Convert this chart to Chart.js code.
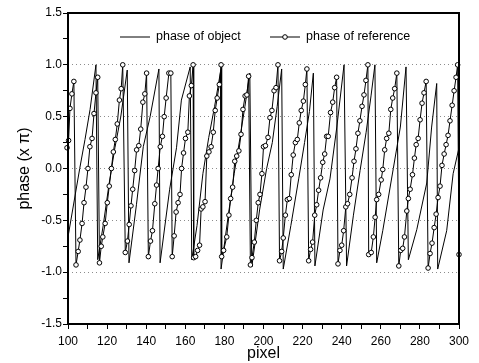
<!DOCTYPE html>
<html>
<head>
<meta charset="utf-8">
<script src="https://cdn.jsdelivr.net/npm/chart.js@4"></script>
<style>
  html, body { margin: 0; padding: 0; background: #fff; }
  canvas { display: block; }
</style>
</head>
<body>
<canvas id="chart" width="479" height="363"></canvas>
<script>
// reference phase: one circle per sample
const refX = [
  99.5, 100.3, 101, 102, 103,
  104.1, 105.2, 106.1, 107.2, 108.2, 109.2, 110.2, 111.2, 112.3, 113.3, 114.3, 115.2,
  116.1, 117, 117.8, 119, 120.1, 121.1, 122.2, 123.2, 124.2, 125.2, 126.3, 127.2, 128,
  129.3, 130.4, 131.3, 132.2, 133.1, 134.1, 135.1, 136.2, 137.2, 138.3, 139.3, 140.2,
  141.1, 142.2, 143.2, 144.4, 145.3, 146.1, 147.2, 148.3, 149.2, 150.2, 151.6, 152.6,
  153.3, 154.3, 155.3, 156.3, 157.3, 158.1, 159.1, 160.1, 161.3, 162.1, 163.1, 164,
  164.3, 165.3, 166.3, 167.3, 168.1, 169, 170.1, 171, 172.1, 173.2, 174.3, 175.3, 176.3, 177.4, 178.3,
  178.6, 179.6, 181.2, 182.3, 183.2, 184.2, 185.3, 186.3, 187.4, 188.5, 189.5, 190.6, 191.5, 192.4,
  193.3, 194.1, 195.3, 196.3, 197.3, 198.2, 199.2, 200, 201, 202.3, 203.3, 204.3, 205.4, 206.4, 207.4,
  208.2, 209.3, 210.1, 211.2, 212.2, 213.2, 214.2, 215.2, 216.3, 217.3, 218.3, 219.3, 220.4, 221.4, 222.2,
  223.1, 224.1, 225.1, 226.2, 227.2, 228.2, 229.2, 230.3, 231.3, 232.3, 233.1, 234.3, 235.4, 236.4, 237.4,
  238.1, 239.1, 240, 241, 242.1, 243, 244.1, 245.3, 246.3, 247.3, 248.3, 249.3, 250.4, 251.4, 252.4, 253.4,
  253.8, 255.1, 256.2, 257.1, 257.9, 258.9, 260.2, 261, 262, 263, 264.1, 265.1, 266.1, 267.1, 268.2,
  269.2, 270.2, 271.2, 272.1, 273.3, 274.1, 275, 276.2, 277.2, 278.1, 279.1, 280.1, 281.1, 282.1, 283.2,
  284.2, 285.2, 286.2, 287.3, 288.3, 289.3, 290.3, 291.3, 292.4, 293.4, 294.4, 295.4, 296.5, 297.5, 298.5, 299.3, 300
];
const refY = [
  0.20, 0.27, 0.58, 0.72, 0.84,
  -0.93, -0.80, -0.69, -0.53, -0.33, -0.18, 0.00, 0.21, 0.29, 0.53, 0.73, 0.88,
  -0.91, -0.75, -0.66, -0.53, -0.33, -0.17, 0.00, 0.16, 0.28, 0.43, 0.66, 0.77, 1.00,
  -0.81, -0.70, -0.54, -0.36, -0.20, -0.02, 0.18, 0.22, 0.38, 0.64, 0.72, 0.92,
  -0.85, -0.70, -0.60, -0.34, -0.16, 0.00, 0.21, 0.31, 0.50, 0.68, 0.92, 0.92,
  -0.85, -0.65, -0.42, -0.33, -0.25, 0.00, 0.15, 0.29, 0.35, 0.70, 0.80, 1.00,
  -0.86, -0.85, -0.79, -0.74, -0.39, -0.37, -0.32, 0.12, 0.16, 0.21, 0.35, 0.56, 0.68, 0.81, 1.00,
  -0.85, -0.79, -0.66, -0.45, -0.29, -0.18, 0.07, 0.12, 0.17, 0.33, 0.57, 0.70, 0.71, 0.89,
  -0.93, -0.86, -0.71, -0.50, -0.33, -0.25, -0.05, 0.21, 0.22, 0.30, 0.49, 0.56, 0.75, 0.78, 1.00,
  -0.89, -0.80, -0.67, -0.45, -0.30, -0.29, -0.06, 0.13, 0.25, 0.28, 0.44, 0.56, 0.65, 0.81, 0.96,
  -0.89, -0.78, -0.71, -0.45, -0.35, -0.21, -0.09, 0.06, 0.14, 0.31, 0.31, 0.54, 0.64, 0.78, 0.88,
  -0.92, -0.79, -0.74, -0.60, -0.37, -0.34, -0.25, -0.09, 0.07, 0.19, 0.34, 0.46, 0.60, 0.71, 0.85, 1.00,
  -0.83, -0.81, -0.66, -0.47, -0.30, -0.25, -0.11, -0.01, 0.18, 0.29, 0.34, 0.57, 0.68, 0.77, 0.92,
  -0.94, -0.79, -0.77, -0.66, -0.41, -0.29, -0.20, -0.06, 0.10, 0.23, 0.29, 0.47, 0.63, 0.73, 0.84,
  -0.96, -0.82, -0.72, -0.57, -0.44, -0.28, -0.17, 0.03, 0.14, 0.23, 0.32, 0.46, 0.61, 0.75, 0.88, 1.00, -0.83
];

// object phase: plain line, vertices
const objX = [
  100, 106, 108.7, 111.3, 114.3,
  115.2, 118, 121, 124, 127, 130.3,
  131.2, 135, 138.5, 142, 146.5,
  147.1, 152, 155.5, 158, 162.5,
  163.3, 166, 169, 172, 175, 178,
  178.3, 182, 185, 188, 190.5, 193,
  194, 198, 201.6, 204.5, 207, 209.3,
  210.1, 214, 218, 221, 223.5, 225.5,
  226.3, 230.5, 234, 237.5, 241.2,
  242.5, 246, 249.4, 252.5, 255, 257,
  257.9, 261, 266.4, 270, 272.9,
  274.1, 278.4, 283.5, 286, 288.6,
  289.1, 293.7, 297, 300
];
const objY = [
  -0.66, 0.00, 0.28, 0.57, 1.00,
  -0.88, -0.55, -0.15, 0.20, 0.50, 0.95,
  -0.91, -0.35, 0.21, 0.50, 0.96,
  -0.91, -0.20, 0.20, 0.66, 0.98,
  -0.88, -0.55, -0.05, 0.30, 0.60, 0.93,
  -0.97, -0.45, -0.05, 0.30, 0.60, 0.92,
  -0.95, -0.40, 0.00, 0.25, 0.60, 0.96,
  -0.97, -0.55, -0.10, 0.25, 0.55, 0.92,
  -0.94, -0.40, -0.10, 0.40, 1.00,
  -0.94, -0.45, -0.02, 0.35, 0.70, 1.00,
  -0.91, -0.60, 0.00, 0.40, 0.98,
  -0.88, -0.59, -0.14, 0.40, 0.82,
  -0.97, -0.60, -0.05, 0.20
];

const xTicks = [100, 110, 120, 130, 140, 150, 160, 170, 180, 190, 200, 210, 220, 230, 240, 250, 260, 270, 280, 290, 300];
const xLabels = [100, 120, 140, 160, 180, 200, 220, 240, 260, 280, 300];
const yTicks = [-1.5, -1.25, -1, -0.75, -0.5, -0.25, 0, 0.25, 0.5, 0.75, 1, 1.25, 1.5];
const yMajor = [-1.5, -1, -0.5, 0, 0.5, 1, 1.5];
const yLabels = ['-1.5', '-1.0', '-0.5', '0.0', '0.5', '1.0', '1.5'];
const yGrid = [-1, -0.5, 0, 0.5, 1];
const names = ['phase of object', 'phase of reference'];

const FONT = '"Liberation Sans", Arial, Helvetica, sans-serif';

const toPoints = (xs, ys) => xs.map((x, i) => ({x: x, y: ys[i]}));

// box round the plot area
const frame = {
  id: 'frame',
  afterDatasetsDraw(chart) {
    const {ctx, chartArea: a} = chart;
    ctx.save();
    ctx.strokeStyle = '#000';
    ctx.lineWidth = 2;
    ctx.strokeRect(a.left, a.top, a.right - a.left, a.bottom - a.top);
    ctx.restore();
  }
};

// legend sits inside the plot, near the top
const insideLegend = {
  id: 'insideLegend',
  afterDraw(chart) {
    const {ctx, chartArea: a} = chart;
    const y = a.top + 24;
    const starts = [a.left + 52, a.left + 202];
    ctx.save();
    ctx.font = '12.5px ' + FONT;
    ctx.textBaseline = 'middle';
    chart.data.datasets.forEach((ds, i) => {
      const x = starts[i];
      ctx.strokeStyle = ds.borderColor;
      ctx.lineWidth = ds.borderWidth;
      ctx.beginPath();
      ctx.moveTo(x, y);
      ctx.lineTo(x + 30, y);
      ctx.stroke();
      if (ds.pointRadius > 0) {
        ctx.beginPath();
        ctx.arc(x + 15, y, ds.pointRadius, 0, Math.PI * 2);
        ctx.fillStyle = ds.pointBackgroundColor;
        ctx.fill();
        ctx.lineWidth = ds.pointBorderWidth;
        ctx.strokeStyle = ds.pointBorderColor;
        ctx.stroke();
      }
      ctx.fillStyle = '#000';
      ctx.fillText(ds.label, x + 36, y);
    });
    ctx.restore();
  }
};

new Chart(document.getElementById('chart').getContext('2d'), {
  type: 'scatter',
  data: {
    datasets: [
      {
        label: names[0],
        data: toPoints(objX, objY),
        showLine: true,
        borderColor: '#000',
        borderWidth: 1,
        pointRadius: 0,
        order: 1
      },
      {
        label: names[1],
        data: toPoints(refX, refY),
        showLine: true,
        borderColor: '#000',
        borderWidth: 1,
        pointRadius: 2.3,
        pointBorderWidth: 1,
        pointBackgroundColor: '#fff',
        pointBorderColor: '#000',
        clip: false,
        order: 0
      }
    ]
  },
  options: {
    responsive: false,
    animation: false,
    devicePixelRatio: 1,
    layout: { padding: { top: 13, right: 20, left: 0, bottom: 0 } },
    plugins: { legend: { display: false }, tooltip: { enabled: false } },
    scales: {
      x: {
        type: 'linear', min: 100, max: 300,
        afterBuildTicks: s => { s.ticks = xTicks.map(v => ({value: v})); },
        afterFit: s => { s.height = 39; },
        ticks: {
          autoSkip: false, maxRotation: 0, padding: 5, color: '#000',
          font: { family: FONT, size: 12 },
          callback: v => xLabels.includes(v) ? String(v) : ''
        },
        grid: { drawOnChartArea: false, tickLength: 5, tickColor: '#000', tickWidth: 1 },
        border: { display: false },
        title: { display: true, text: 'pixel', color: '#000', font: { family: FONT, size: 16 }, padding: 0 }
      },
      y: {
        type: 'linear', min: -1.5, max: 1.5,
        afterBuildTicks: s => { s.ticks = yTicks.map(v => ({value: v})); },
        afterFit: s => { s.width = 68; },
        ticks: {
          autoSkip: false, padding: 1, color: '#000',
          font: { family: FONT, size: 12 },
          callback: v => { const i = yMajor.indexOf(v); return i >= 0 ? yLabels[i] : ''; }
        },
        grid: {
          color: c => (c.tick && yGrid.includes(c.tick.value)) ? '#8c8c8c' : 'rgba(0,0,0,0)',
          tickColor: '#000', tickLength: 5, tickWidth: 1, lineWidth: 1
        },
        border: { display: false, dash: [1, 3] },
        title: { display: true, text: 'phase (x π)', color: '#000', font: { family: FONT, size: 16 }, padding: { top: 15, bottom: 0 } }
      }
    }
  },
  plugins: [frame, insideLegend]
});
</script>
</body>
</html>
